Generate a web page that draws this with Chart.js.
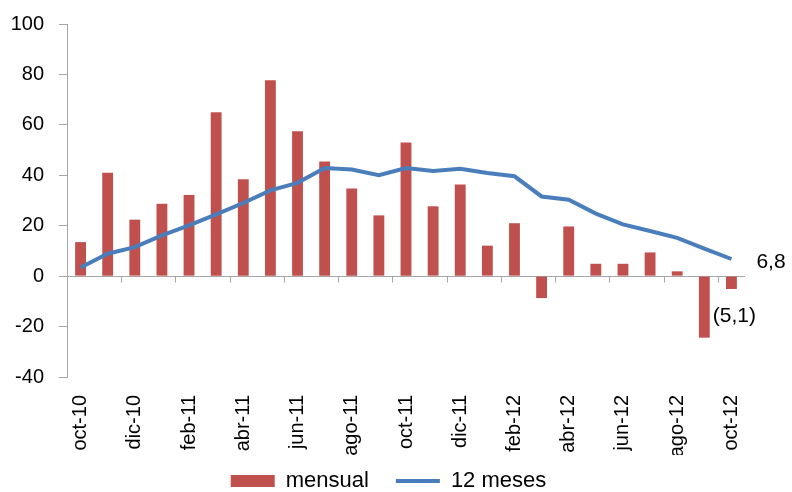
<!DOCTYPE html>
<html>
<head>
<meta charset="utf-8">
<script src="https://cdn.jsdelivr.net/npm/chart.js@4.4.1/dist/chart.umd.min.js"></script>
<style>
  html, body { margin: 0; padding: 0; background: #fff; }
  #wrap { width: 792px; height: 492px; position: relative; }
</style>
</head>
<body>
<div id="wrap"><canvas id="c" width="792" height="492"></canvas></div>
<script>
const categories = ['oct-10','nov-10','dic-10','ene-11','feb-11','mar-11','abr-11','may-11','jun-11','jul-11','ago-11','sep-11','oct-11','nov-11','dic-11','ene-12','feb-12','mar-12','abr-12','may-12','jun-12','jul-12','ago-12','sep-12','oct-12'];
const mensual = [13.5, 41, 22.4, 28.7, 32.2, 65, 38.4, 77.7, 57.5, 45.5, 34.8, 24.1, 53, 27.7, 36.3, 12.1, 21, -8.7, 19.7, 4.9, 4.9, 9.4, 1.9, -24.4, -5.1];
const doceMeses = [3.4, 8.9, 11.5, 16.2, 20.1, 24.5, 29, 34, 37, 42.9, 42.3, 40, 42.9, 41.7, 42.6, 40.9, 39.6, 31.6, 30.3, 24.8, 20.5, 17.9, 15.2, 10.9, 6.8];
const yTicks = [-40, -20, 0, 20, 40, 60, 80, 100];
const lastLineLabel = '6,8';
const lastBarLabel = '(5,1)';

const FONT = 'Liberation Sans, Arial, sans-serif';
const AXIS_GRAY = '#A6A6A6';

const legendHeightPlugin = {
  id: 'legendHeight',
  beforeLayout(chart) {
    const lg = chart.legend;
    if (lg && !lg._patched) {
      const origFit = lg.fit.bind(lg);
      lg.fit = function() { origFit(); this.height = 37; };
      const origDraw = lg._draw.bind(lg);
      lg._draw = function() {
        const ctx = this.ctx;
        ctx.save();
        ctx.translate(16, -12);
        origDraw();
        ctx.restore();
      };
      lg._patched = true;
    }
  }
};

const zeroAxisPlugin = {
  id: 'zeroAxis',
  beforeDatasetsDraw(chart) {
    const {ctx, chartArea, scales} = chart;
    const x = scales.x, y = scales.y;
    const y0 = Math.round(y.getPixelForValue(0)) + 0.5;
    ctx.save();
    ctx.strokeStyle = AXIS_GRAY;
    ctx.lineWidth = 1;
    ctx.beginPath();
    ctx.moveTo(chartArea.left, y0);
    ctx.lineTo(chartArea.right, y0);
    const step = x.getPixelForValue(1) - x.getPixelForValue(0);
    for (let i = 2; i < categories.length; i += 2) {
      const bx = Math.round(x.getPixelForValue(i) - step / 2) + 0.5;
      ctx.moveTo(bx, y0);
      ctx.lineTo(bx, y0 + 6);
    }
    ctx.stroke();
    ctx.restore();
  },
  afterDatasetsDraw(chart) {
    const {ctx, scales} = chart;
    const x = scales.x, y = scales.y;
    const n = categories.length - 1;
    ctx.save();
    ctx.fillStyle = '#000';
    ctx.font = '21px ' + FONT;
    ctx.textBaseline = 'middle';
    ctx.textAlign = 'left';
    ctx.fillText(lastLineLabel, x.getPixelForValue(n) + 25, y.getPixelForValue(doceMeses[n]) + 3);
    ctx.textAlign = 'center';
    ctx.fillText(lastBarLabel, x.getPixelForValue(n) + 3, y.getPixelForValue(mensual[n]) + 27);
    ctx.restore();
  }
};

new Chart(document.getElementById('c'), {
  data: {
    labels: categories,
    datasets: [
      {
        type: 'line',
        label: '12 meses',
        data: doceMeses,
        borderColor: '#4A7EBB',
        backgroundColor: '#4A7EBB',
        borderWidth: 4,
        pointRadius: 0,
        pointStyle: 'line',
        tension: 0,
        order: 0
      },
      {
        type: 'bar',
        label: 'mensual',
        data: mensual,
        backgroundColor: '#C0504D',
        borderWidth: 0,
        pointStyle: 'rect',
        barPercentage: 0.4,
        categoryPercentage: 1.0,
        order: 1
      }
    ]
  },
  options: {
    responsive: false,
    animation: false,
    devicePixelRatio: 1,
    layout: { padding: { left: 0, right: 47, top: 24, bottom: 0 } },
    plugins: {
      tooltip: { enabled: false },
      legend: {
        position: 'bottom',
        reverse: true,
        labels: {
          usePointStyle: true,
          pointStyleWidth: 44,
          boxHeight: 12,
          padding: 27,
          color: '#000',
          font: { family: FONT, size: 22 }
        }
      }
    },
    scales: {
      x: {
        type: 'category',
        offset: true,
        grid: { display: false },
        border: { display: false },
        ticks: {
          autoSkip: false,
          minRotation: 90,
          maxRotation: 90,
          padding: 10,
          color: '#000',
          font: { family: FONT, size: 20 },
          callback: function(v, i) { return i % 2 === 0 ? categories[i] : ''; }
        },
        afterFit(scale) { scale.height = 78; scale.paddingLeft = 0; scale.paddingRight = 0; }
      },
      y: {
        min: -40,
        max: 100,
        afterBuildTicks(scale) { scale.ticks = yTicks.map(v => ({ value: v })); },
        grid: { drawOnChartArea: false, drawTicks: true, tickLength: 8, color: AXIS_GRAY },
        border: { display: true, color: AXIS_GRAY },
        ticks: {
          padding: 15,
          color: '#000',
          font: { family: FONT, size: 20 }
        },
        afterFit(scale) { scale.width = 67; scale.paddingTop = 0; scale.paddingBottom = 0; }
      }
    }
  },
  plugins: [legendHeightPlugin, zeroAxisPlugin]
});
</script>
</body>
</html>
